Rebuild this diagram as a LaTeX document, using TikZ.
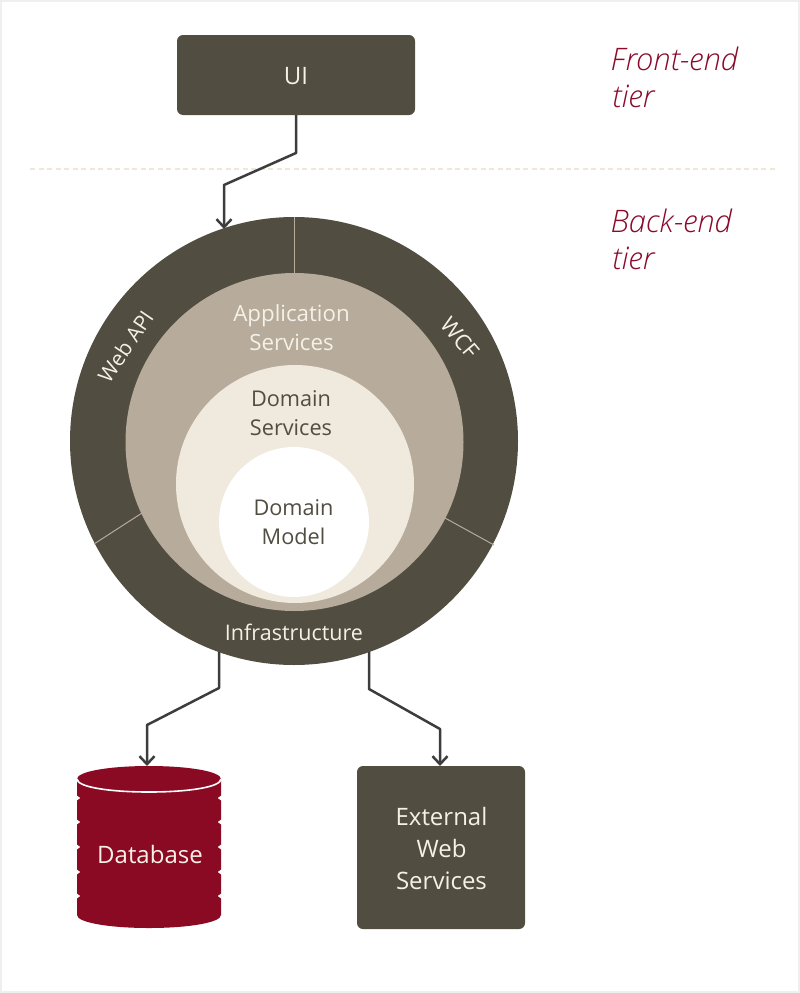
\documentclass[tikz,border=0pt]{standalone}
\usepackage{fontspec}
\setmainfont{Open Sans}
\newfontfamily\tierfont{Open Sans Light Italic}
\usetikzlibrary{arrows.meta}
\definecolor{darkb}{HTML}{514D41}
\definecolor{midb}{HTML}{B7AB9B}
\definecolor{lightb}{HTML}{F0E9DD}
\definecolor{creamt}{HTML}{F6F1E7}
\definecolor{redb}{HTML}{8A0A23}
\definecolor{tierc}{HTML}{8A0A2A}
\definecolor{linec}{HTML}{3D3D3D}
\definecolor{dashc}{HTML}{EFE8D8}
\definecolor{framec}{HTML}{EFEFEF}
\newcommand{\fs}[1]{\fontsize{#1}{#1}\selectfont}
\tikzset{
  x=1pt,y=-1pt,
  disc/.style={circle,inner sep=0pt,outer sep=0pt},
  panel/.style={rectangle,rounded corners=6pt,fill=darkb,inner sep=0pt,outer sep=0pt},
  lab/.style={align=center,inner sep=0pt,text=creamt,font=\fs{21.5}},
  labd/.style={align=center,inner sep=0pt,text=darkb,font=\fs{21.5}},
  big/.style={align=center,inner sep=0pt,text=creamt,font=\fs{24}},
  tier/.style={align=left,anchor=base west,inner sep=0pt,text=tierc,font=\fs{31}\tierfont},
  conn/.style={draw=linec,line width=2.5pt,line join=round,-{Straight Barb[length=8pt,width=15pt,line width=2.5pt]}},
  sep/.style={draw=midb,line width=1pt},
}
\begin{document}
\begin{tikzpicture}
\useasboundingbox (0,0) rectangle (800,993);
\draw[framec,line width=2pt] (1,1) rectangle (799,992);
\draw[dashc,line width=1.5pt,dash pattern=on 5pt off 3.5pt] (30,169) -- (776,169);

\node[panel,minimum width=238pt,minimum height=80pt] (ui) at (296,75) {};
\node[big,font=\fs{24}] (uit) at (296,76) {UI};

\node[disc,fill=darkb,minimum size=448pt] (outer) at (294,441) {};
\draw[sep] (294,217) -- (294,274);
\draw[sep] (94,544) -- (142,513);
\draw[sep] (445,518) -- (494,545);
\node[disc,fill=midb,minimum size=338pt] (mid) at (294.5,442) {};
\node[disc,fill=lightb,minimum size=238pt] (inn) at (295,484) {};
\node[disc,fill=white,minimum size=150pt] (core) at (294,522) {};

\node[lab,font=\fs{22.3}] (app) at (291.5,327.5) {Application\\[7pt]Services};
\node[labd,font=\fs{21.7}] (dom) at (291,413.5) {Domain\\[7.5pt]Services};
\node[labd,font=\fs{21.7}] (mod) at (293.5,522) {Domain\\[8pt]Model};
\node[lab] (infra) at (294,632) {Infrastructure};
\node[lab,font=\fs{21},rotate=56] (api) at (125.5,346.5) {Web API};
\node[lab,font=\fs{22},rotate=-50] (wcf) at (460,338) {WCF};

\node[tier] (fe) at (610.5,70) {Front-end};
\node[tier] (fet) at (612,107) {tier};
\node[tier] (be) at (610.5,232) {Back-end};
\node[tier] (bet) at (612,269) {tier};

\node[panel,minimum width=168pt,minimum height=163pt] (ext) at (441,847.5) {};
\node[big] (extt) at (441.5,848) {External\\[8pt]Web\\[8pt]Services};

\path[fill=redb] (77,779)
  .. controls (77,771.5) and (109,766) .. (149,766)
  .. controls (189,766) and (221,771.5) .. (221,779)
  -- (221,795.5) -- (217.5,798) -- (221,800.5)
  -- (221,819.5) -- (217.5,822) -- (221,824.5)
  -- (221,844.5) -- (217.5,847) -- (221,849.5)
  -- (221,869.5) -- (217.5,872) -- (221,874.5)
  -- (221,893.5) -- (217.5,896) -- (221,898.5)
  -- (221,915)
  .. controls (221,922.5) and (189,928) .. (149,928)
  .. controls (109,928) and (77,922.5) .. (77,915)
  -- (77,898.5) -- (80.5,896) -- (77,893.5)
  -- (77,874.5) -- (80.5,872) -- (77,869.5)
  -- (77,849.5) -- (80.5,847) -- (77,844.5)
  -- (77,824.5) -- (80.5,822) -- (77,819.5)
  -- (77,800.5) -- (80.5,798) -- (77,795.5) -- cycle;
\draw[white,line width=1.6pt] (77,779) .. controls (77,787) and (109,792) .. (149,792)
  .. controls (189,792) and (221,787) .. (221,779);
\node[big] (db) at (150,854) {Database};

\coordinate (uiin) at (224,229);
\coordinate (dbout) at (219,652);
\coordinate (extout) at (369,652);
\coordinate (dbtop) at (147,766);
\coordinate (exttop) at (440,766);
\draw[conn] (ui.south) -- (296,153) -- (224,185) -- (uiin);
\draw[conn] (dbout) -- (219,688) -- (147,725) -- (dbtop);
\draw[conn] (extout) -- (369,689) -- (440,729) -- (exttop);
\end{tikzpicture}
\end{document}
